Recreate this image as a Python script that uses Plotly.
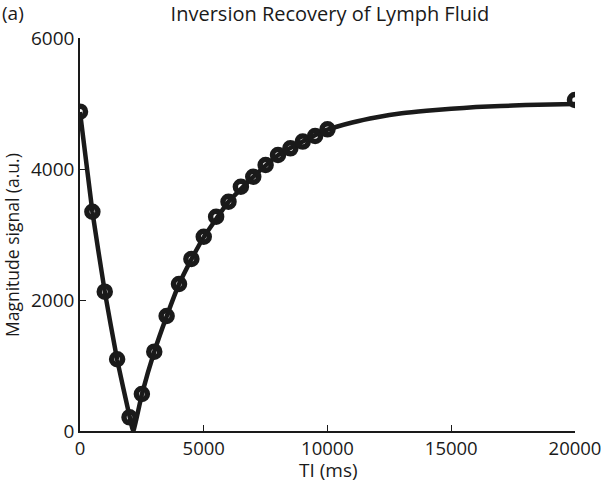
import plotly.graph_objects as go

# measured points (ms, a.u.)
ti_points = [0, 500, 1000, 1500, 2000, 2500, 3000, 3500, 4000, 4500, 5000,
             5500, 6000, 6500, 7000, 7500, 8000, 8500, 9000, 9500, 10000, 20000]
signal_points = [4875, 3348, 2127, 1095, 209, 565, 1211, 1756, 2244, 2626, 2966,
                 3271, 3500, 3729, 3882, 4061, 4214, 4316, 4418, 4504, 4606, 5053]

# fitted recovery curve
ti_fit = [0, 500, 1000, 1500, 2000, 2150, 2500, 3000, 3500, 4000, 4500, 5000,
          6000, 7000, 8000, 9000, 10000, 11000, 12000, 13000, 14000, 15000,
          16000, 17000, 18000, 19000, 20000]
signal_fit = [4870, 3350, 2130, 1090, 230, 0, 560, 1210, 1750, 2240, 2620, 2960,
              3500, 3880, 4210, 4420, 4600, 4710, 4790, 4850, 4890, 4920,
              4945, 4962, 4976, 4986, 4992]

x_ticks = [0, 5000, 10000, 15000, 20000]
y_ticks = [0, 2000, 4000, 6000]

font_family = "Open Sans, Noto Sans, sans-serif"
W, H = 601, 483
M = dict(l=80, r=26, t=38, b=52)
pw = W - M['l'] - M['r']
ph = H - M['t'] - M['b']

fig = go.Figure()

fig.add_trace(go.Scatter(x=ti_fit, y=signal_fit, mode='lines',
                         line=dict(color='#1a1a1a', width=4.5, shape='spline', smoothing=0.4),
                         showlegend=False, hoverinfo='skip'))

fig.add_trace(go.Scatter(x=ti_points, y=signal_points, mode='markers',
                         marker=dict(symbol='circle-open', size=11, color='#1a1a1a',
                                     line=dict(width=5.5, color='#1a1a1a')),
                         showlegend=False))

fig.update_layout(
    width=W, height=H,
    margin=M,
    plot_bgcolor='white', paper_bgcolor='white',
    font=dict(family=font_family, size=19, color='#1a1a1a'),
    title=dict(text='Inversion Recovery of Lymph Fluid', x=0.549, xanchor='center',
               y=1 - 14 / H, yanchor='middle', font=dict(size=20)),
)

fig.update_xaxes(range=[0, 20000], tickvals=x_ticks, ticktext=[str(v) for v in x_ticks],
                 ticks='inside', ticklen=6, tickcolor='#1a1a1a',
                 tickfont=dict(size=18.5), automargin=False, ticklabeloverflow='allow',
                 showline=True, linecolor='#1a1a1a', linewidth=1.5,
                 showgrid=False, zeroline=False)
fig.update_yaxes(range=[0, 6000], tickvals=y_ticks, ticktext=[str(v) for v in y_ticks],
                 ticks='inside', ticklen=6, tickcolor='#1a1a1a',
                 tickfont=dict(size=19), automargin=False, ticklabeloverflow='allow',
                 showline=True, linecolor='#1a1a1a', linewidth=1.5,
                 showgrid=False, zeroline=False)

# axis titles and panel label placed in page pixels
fig.add_annotation(text='TI (ms)', xref='paper', yref='paper',
                   x=(328 - M['l']) / pw, y=-(470 - (H - M['b'])) / ph,
                   xanchor='center', yanchor='middle', showarrow=False, font=dict(size=19))
fig.add_annotation(text='Magnitude signal (a.u.)', xref='paper', yref='paper',
                   x=(12 - M['l']) / pw, y=((H - M['b']) - 245) / ph, textangle=-90,
                   xanchor='center', yanchor='middle', showarrow=False, font=dict(size=17.5))
fig.add_annotation(text='(a)', xref='paper', yref='paper',
                   x=(0 - M['l']) / pw, y=((H - M['b']) - 13) / ph,
                   xanchor='left', yanchor='middle', showarrow=False, font=dict(size=19))

fig.write_html("out.html", config={'displayModeBar': False},
               post_script="document.body.style.margin='0';")
